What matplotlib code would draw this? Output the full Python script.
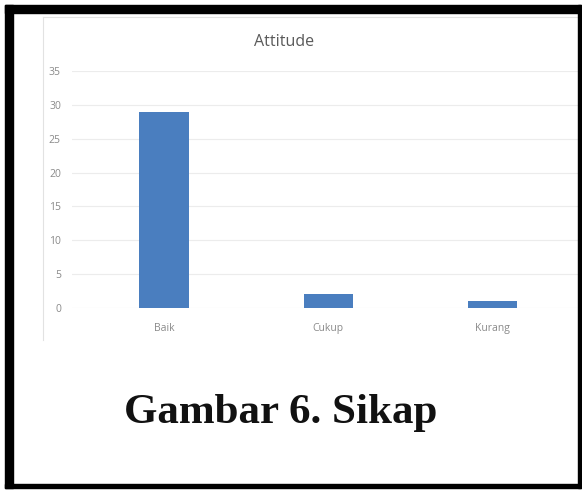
import matplotlib.pyplot as plt
from matplotlib.patches import Rectangle

categories = ["Baik", "Cukup", "Kurang"]
values = [29, 2, 1]
yticks = [0, 5, 10, 15, 20, 25, 30, 35]

W, H = 582, 491
fig = plt.figure(figsize=(W / 100, H / 100), dpi=100)


def fx(px):
    return px / W


def fy(py):
    return 1 - py / H


# plot area (pixel box from the reference)
ax = fig.add_axes([fx(72), fy(308), fx(578) - fx(72), fy(71) - fy(308)])
ax.bar(range(len(categories)), values, width=0.3, color="#4a7ebf", zorder=3)
ax.set_ylim(0, 35)
ax.set_xlim(-0.56, 2.52)
ax.set_yticks(yticks)
ax.set_xticks(range(len(categories)))
ax.set_xticklabels(categories)
ax.grid(axis="y", color="#ececec", linewidth=0.8, zorder=0)
for s in ax.spines.values():
    s.set_visible(False)
ax.tick_params(length=0, labelsize=7.5, colors="#8a8a8a")
ax.tick_params(axis="x", pad=11)
ax.tick_params(axis="y", pad=8)
for lab in ax.get_xticklabels() + ax.get_yticklabels():
    lab.set_family("Open Sans")

# chart pane outline (faint)
fig.add_artist(plt.Line2D([fx(43), fx(43)], [fy(17), fy(340)], color="#e2e2e2", lw=0.8))
fig.add_artist(plt.Line2D([fx(43), fx(578)], [fy(17), fy(17)], color="#e2e2e2", lw=0.8))

fig.text(fx(284), fy(42), "Attitude", ha="center", va="center",
         fontsize=11.5, color="#5a5a5a", family="Open Sans")

fig.text(fx(281), fy(423), "Gambar 6. Sikap", ha="center", va="baseline",
         fontsize=31, fontweight="bold", color="#111111", family="Liberation Serif")

# black frame
for x0, y0, x1, y1 in [(5, 5, 13, 488), (5, 5, 581, 13), (578, 5, 581, 488), (5, 484, 581, 488)]:
    fig.patches.append(Rectangle((fx(x0), fy(y1)), fx(x1) - fx(x0), fy(y0) - fy(y1),
                                 transform=fig.transFigure, color="black", zorder=10))

fig.savefig("out.png", dpi=100)
